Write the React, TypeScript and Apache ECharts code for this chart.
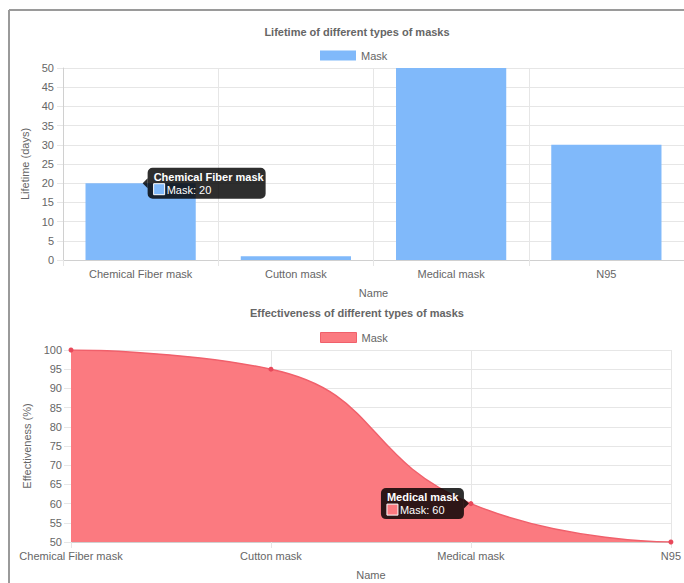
import React, { useEffect, useRef } from "react";
import * as echarts from "echarts";

const categories = ["Chemical Fiber mask", "Cutton mask", "Medical mask", "N95"];
const lifetimeValues = [20, 1, 50, 30];
const effectivenessValues = [100, 95, 60, 50];
const seriesName = "Mask";
const lifetimeTitle = "Lifetime of different types of masks";
const effectivenessTitle = "Effectiveness of different types of masks";

const FONT = "'Liberation Sans', Arial, Helvetica, sans-serif";
const TEXT = "#666";
const GRID = "#e6e6e6";
const BLUE = "#80b9fa";
const RED_FILL = "#fb7a80";
const RED_LINE = "#f0606b";
const RED_POINT = "#e8485a";

function tooltipGraphic(
  px: number[],
  title: string,
  line: string,
  swatch: string,
  side: "right" | "left",
  boxW: number
) {
  const boxH = 31;
  const caret = 5;
  const [x, y] = px;
  const left = side === "right" ? x + caret + 2 : x - caret - 2 - boxW;
  const top = y - boxH / 2;
  const caretPts =
    side === "right"
      ? [
          [x + 2, y],
          [x + caret + 2, y - caret],
          [x + caret + 2, y + caret],
        ]
      : [
          [x - 2, y],
          [x - caret - 2, y - caret],
          [x - caret - 2, y + caret],
        ];
  const z = 100;
  return {
    type: "group",
    z,
    children: [
      {
        type: "rect",
        z,
        shape: { x: left, y: top, width: boxW, height: boxH, r: 5 },
        style: { fill: "rgba(0,0,0,0.82)" },
      },
      {
        type: "polygon",
        z,
        shape: { points: caretPts },
        style: { fill: "rgba(0,0,0,0.82)" },
      },
      {
        type: "text",
        z: z + 1,
        x: left + 6,
        y: top + 9,
        style: {
          text: title,
          fill: "#fff",
          font: `bold 11px ${FONT}`,
          verticalAlign: "middle",
        },
      },
      {
        type: "rect",
        z: z + 1,
        shape: { x: left + 6, y: top + 16, width: 11, height: 11 },
        style: { fill: swatch, stroke: "#fff", lineWidth: 1 },
      },
      {
        type: "text",
        z: z + 1,
        x: left + 19,
        y: top + 22,
        style: {
          text: line,
          fill: "#fff",
          font: `11px ${FONT}`,
          verticalAlign: "middle",
        },
      },
    ],
  };
}

export default function App() {
  const ref = useRef<HTMLDivElement>(null);

  useEffect(() => {
    if (!ref.current) return;
    document.body.style.margin = "0";
    document.body.style.overflow = "hidden";
    const chart = echarts.init(ref.current, null, { renderer: "svg" });

    const axisLabel = { color: TEXT, fontSize: 11, fontFamily: FONT };
    const nameStyle = { color: TEXT, fontSize: 11, fontFamily: FONT };

    chart.setOption({
      animation: false,
      backgroundColor: "#fff",
      textStyle: { fontFamily: FONT },
      title: [
        {
          text: lifetimeTitle,
          left: 352,
          top: 21,
          textAlign: "center",
          textStyle: { color: TEXT, fontSize: 11, fontWeight: "bold", fontFamily: FONT },
        },
        {
          text: effectivenessTitle,
          left: 352,
          top: 302,
          textAlign: "center",
          textStyle: { color: TEXT, fontSize: 11, fontWeight: "bold", fontFamily: FONT },
        },
      ],
      legend: [
        {
          left: 315,
          top: 45,
          icon: "rect",
          itemWidth: 36,
          itemHeight: 10,
          itemGap: 10,
          textStyle: { color: TEXT, fontSize: 11, fontFamily: FONT },
          data: [{ name: seriesName, itemStyle: { color: BLUE } }],
          selectedMode: false,
        },
        {
          left: 315,
          top: 327,
          icon: "rect",
          itemWidth: 36,
          itemHeight: 10,
          textStyle: { color: TEXT, fontSize: 11, fontFamily: FONT },
          data: [{ name: seriesName, itemStyle: { color: RED_FILL, borderColor: RED_LINE, borderWidth: 1 } }],
          selectedMode: false,
        },
      ],
      grid: [
        { left: 63, top: 68, width: 624, height: 192 },
        { left: 71, top: 350, width: 606, height: 192 },
      ],
      xAxis: [
        {
          gridIndex: 0,
          type: "category",
          data: categories,
          boundaryGap: true,
          name: "Name",
          nameLocation: "middle",
          nameGap: 27,
          nameTextStyle: nameStyle,
          axisLine: { show: true, lineStyle: { color: "#d0d0d0" } },
          axisTick: { show: true, length: 6, lineStyle: { color: GRID } },
          axisLabel: { ...axisLabel, margin: 8 },
          splitLine: { show: true, lineStyle: { color: GRID } },
        },
        {
          gridIndex: 1,
          type: "category",
          data: categories,
          boundaryGap: false,
          name: "Name",
          nameLocation: "middle",
          nameGap: 27,
          nameTextStyle: nameStyle,
          axisLine: { show: true, lineStyle: { color: "#d0d0d0" } },
          axisTick: { show: true, length: 6, lineStyle: { color: GRID } },
          axisLabel: { ...axisLabel, margin: 8 },
          splitLine: { show: true, lineStyle: { color: GRID } },
        },
      ],
      yAxis: [
        {
          gridIndex: 0,
          type: "value",
          min: 0,
          max: 50,
          interval: 5,
          name: "Lifetime (days)",
          nameLocation: "middle",
          nameGap: 25,
          nameTextStyle: nameStyle,
          axisLine: { show: true, lineStyle: { color: "#d0d0d0" } },
          axisTick: { show: true, length: 6, lineStyle: { color: GRID } },
          axisLabel: { ...axisLabel, margin: 9 },
          splitLine: { show: true, lineStyle: { color: GRID } },
        },
        {
          gridIndex: 1,
          type: "value",
          min: 50,
          max: 100,
          interval: 5,
          name: "Effectiveness (%)",
          nameLocation: "middle",
          nameGap: 35,
          nameTextStyle: nameStyle,
          axisLine: { show: true, lineStyle: { color: "#d0d0d0" } },
          axisTick: { show: true, length: 7, lineStyle: { color: GRID } },
          axisLabel: { ...axisLabel, margin: 9 },
          splitLine: { show: true, lineStyle: { color: GRID } },
        },
      ],
      series: [
        {
          name: seriesName,
          type: "bar",
          xAxisIndex: 0,
          yAxisIndex: 0,
          data: lifetimeValues,
          barWidth: "71%",
          itemStyle: { color: BLUE },
        },
        {
          name: seriesName,
          type: "line",
          xAxisIndex: 1,
          yAxisIndex: 1,
          data: effectivenessValues,
          smooth: 0.5,
          symbol: "circle",
          symbolSize: 5,
          itemStyle: { color: RED_POINT },
          lineStyle: { color: RED_LINE, width: 1.5 },
          areaStyle: { color: RED_FILL, opacity: 1, origin: "start" },
          z: 3,
        },
      ],
    });

    const p1 = chart.convertToPixel({ seriesIndex: 0 }, [0, lifetimeValues[0]]) as number[];
    const p2 = chart.convertToPixel({ seriesIndex: 1 }, [2, effectivenessValues[2]]) as number[];

    chart.setOption({
      graphic: [
        {
          type: "line",
          z: 100,
          shape: { x1: 9, y1: 10, x2: 9, y2: 583 },
          style: { stroke: "#9a9a9a", lineWidth: 2 },
        },
        {
          type: "line",
          z: 100,
          shape: { x1: 9, y1: 10, x2: 684, y2: 10 },
          style: { stroke: "#9a9a9a", lineWidth: 2 },
        },
        tooltipGraphic(
          p1,
          categories[0],
          `${seriesName}: ${lifetimeValues[0]}`,
          BLUE,
          "right",
          118
        ),
        tooltipGraphic(
          p2,
          categories[2],
          `${seriesName}: ${effectivenessValues[2]}`,
          RED_FILL,
          "left",
          83
        ),
      ],
    });

    return () => chart.dispose();
  }, []);

  return (
    <div
      ref={ref}
      style={{ width: 684, height: 583, overflow: "hidden" }}
    />
  );
}
